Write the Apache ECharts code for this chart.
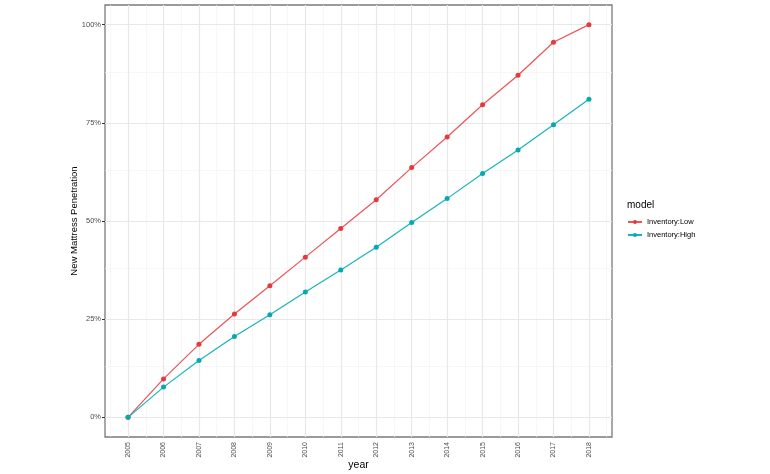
<!DOCTYPE html>
<html>
<head>
<meta charset="utf-8">
<script src="https://cdn.jsdelivr.net/npm/echarts@6/dist/echarts.min.js"></script>
<style>html,body{margin:0;padding:0;background:#fff}#c{width:770px;height:474px}</style>
</head>
<body>
<div id="c"></div>
<script>
const years = [2005,2006,2007,2008,2009,2010,2011,2012,2013,2014,2015,2016,2017,2018];
const inventoryLow  = [0, 0.098, 0.186, 0.263, 0.335, 0.408, 0.481, 0.554, 0.636, 0.714, 0.796, 0.871, 0.955, 1.0];
const inventoryHigh = [0, 0.077, 0.145, 0.206, 0.261, 0.319, 0.375, 0.433, 0.496, 0.557, 0.621, 0.681, 0.745, 0.810];
const seriesNames = ['Inventory:Low', 'Inventory:High'];
const yTicks = [0, 0.25, 0.5, 0.75, 1];
const yMinor = [0.125, 0.375, 0.625, 0.875];
const xMinor = [2004.5,2005.5,2006.5,2007.5,2008.5,2009.5,2010.5,2011.5,2012.5,2013.5,2014.5,2015.5,2016.5,2017.5,2018.5];

const FONT = '"Liberation Sans", Arial, sans-serif';
const chart = echarts.init(document.getElementById('c'), null, {renderer: 'canvas'});

function pairs(vals) { return years.map((y, i) => [y, vals[i]]); }

const gridLines = [];
xMinor.forEach(v => gridLines.push({xAxis: v, lineStyle: {color: '#f3f3f3', width: 0.7, type: 'solid'}}));
yMinor.forEach(v => gridLines.push({yAxis: v, lineStyle: {color: '#f3f3f3', width: 0.7, type: 'solid'}}));
years.forEach(v => gridLines.push({xAxis: v, lineStyle: {color: '#e8e8e8', width: 1.2, type: 'solid'}}));
yTicks.forEach(v => gridLines.push({yAxis: v, lineStyle: {color: '#e8e8e8', width: 1.2, type: 'solid'}}));

chart.setOption({
  animation: false,
  backgroundColor: '#ffffff',
  title: {
    text: 'model', left: 627, top: 200, padding: 0,
    textStyle: {fontFamily: FONT, fontSize: 10, fontWeight: 'normal', color: '#000'}
  },
  legend: {
    data: seriesNames,
    orient: 'vertical', left: 627, top: 218, padding: 0,
    itemWidth: 14, itemHeight: 5, itemGap: 5,
    textStyle: {fontFamily: FONT, fontSize: 7.5, color: '#000'}
  },
  grid: {
    left: 105, top: 5, right: 158, bottom: 37,
    outerBoundsMode: 'none', containLabel: false,
    show: true, borderColor: '#7a7a7a', borderWidth: 1.3, backgroundColor: '#fff'
  },
  xAxis: {
    type: 'value', min: 2004.35, max: 2018.65, interval: 1,
    name: 'year', nameLocation: 'middle', nameGap: 23, nameMoveOverlap: false,
    nameTextStyle: {fontFamily: FONT, fontSize: 10.5, color: '#000'},
    axisLine: {show: false},
    splitLine: {show: false},
    axisTick: {show: true, length: 3, customValues: years, lineStyle: {color: '#333', width: 1}},
    axisLabel: {
      customValues: years, rotate: 90, margin: 5,
      fontFamily: FONT, fontSize: 7, color: '#4d4d4d',
      formatter: v => (Math.abs(v - Math.round(v)) < 1e-6 ? String(Math.round(v)) : '')
    }
  },
  yAxis: {
    type: 'value', min: -0.05, max: 1.05, interval: 0.25,
    name: 'New Mattress Penetration', nameLocation: 'middle', nameGap: 26, nameMoveOverlap: false,
    nameTextStyle: {fontFamily: FONT, fontSize: 9.5, color: '#000'},
    axisLine: {show: false},
    splitLine: {show: false},
    axisTick: {show: true, length: 3, customValues: yTicks, lineStyle: {color: '#333', width: 1}},
    axisLabel: {
      customValues: yTicks, margin: 4,
      fontFamily: FONT, fontSize: 7.5, color: '#4d4d4d',
      formatter: v => {
        const ok = yTicks.some(t => Math.abs(t - v) < 1e-6);
        return ok ? Math.round(v * 100) + '%' : '';
      }
    }
  },
  series: [
    {
      name: '_grid', type: 'line', data: [[2005, 0]], z: 1,
      showSymbol: false, lineStyle: {opacity: 0}, silent: true, legendHoverLink: false,
      markLine: {z: 1, zlevel: 0, silent: true, symbol: ['none', 'none'], label: {show: false}, animation: false, data: gridLines}
    },
    {
      name: seriesNames[0], type: 'line', data: pairs(inventoryLow), z: 10,
      color: '#ee4d4f', symbol: 'circle', symbolSize: 5, showSymbol: true,
      lineStyle: {width: 1.2, color: '#ef5355'},
      itemStyle: {color: '#e6383d', borderWidth: 0, borderColor: '#e6383d'}
    },
    {
      name: seriesNames[1], type: 'line', data: pairs(inventoryHigh), z: 10,
      color: '#10b5bb', symbol: 'circle', symbolSize: 5, showSymbol: true,
      lineStyle: {width: 1.2, color: '#17b4ba'},
      itemStyle: {color: '#05a9b0', borderWidth: 0, borderColor: '#05a9b0'}
    }
  ]
});
</script>
</body>
</html>
